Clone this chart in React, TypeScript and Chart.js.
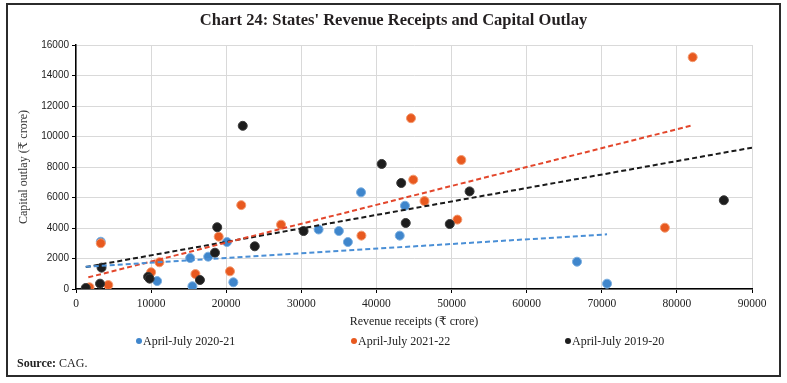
import React, { useEffect, useRef } from "react";
import { Chart, registerables } from "chart.js";

Chart.register(...registerables);

// ---- Data ----
const seriesNames = ["April-July 2020-21", "April-July 2021-22", "April-July 2019-20"];
const seriesColors = ["#3f86cc", "#e8591f", "#1d1d1d"];
const seriesBorders = ["#7aaee0", "#f29a70", "#3a3a3a"];
const trendColors = ["#4a8fd6", "#e3462b", "#1a1a1a"];

const x2020 = [3300, 10800, 15200, 15500, 17600, 20100, 20950, 32300, 35000, 36200, 37950, 43100, 43800, 66700, 70700];
const y2020 = [3100, 520, 2030, 180, 2120, 3080, 440, 3900, 3800, 3080, 6340, 3500, 5460, 1790, 350];

const x2021 = [1800, 3300, 4300, 10000, 11100, 15900, 19000, 20500, 22000, 27300, 38000, 44600, 44900, 46400, 50770, 51300, 78400, 82100];
const y2021 = [110, 3000, 260, 1100, 1750, 980, 3430, 1160, 5500, 4220, 3500, 11200, 7170, 5770, 4550, 8460, 4020, 15200];

const x2019 = [1300, 3200, 3400, 9600, 9800, 16500, 18500, 18800, 22200, 23800, 30300, 40700, 43300, 43900, 49760, 52400, 86250];
const y2019 = [65, 350, 1400, 800, 680, 590, 2380, 4050, 10700, 2800, 3800, 8200, 6950, 4330, 4260, 6400, 5820];

// Trend line end points
const trend2020X = [1300, 70700];
const trend2020Y = [1460, 3585];
const trend2021X = [1640, 81900];
const trend2021Y = [765, 10710];
const trend2019X = [1300, 90000];
const trend2019Y = [1440, 9270];

const xTicks = [0, 10000, 20000, 30000, 40000, 50000, 60000, 70000, 80000, 90000];
const yTicks = [0, 2000, 4000, 6000, 8000, 10000, 12000, 14000, 16000];

const titleText = "Chart 24: States' Revenue Receipts and Capital Outlay";
const xTitle = "Revenue receipts (₹ crore)";
const yTitle = "Capital outlay (₹ crore)";

const zip = (xs: number[], ys: number[]) => xs.map((x, i) => ({ x, y: ys[i] }));

const SERIF = "'Liberation Serif', 'DejaVu Serif', serif";
const SANS = "'Liberation Sans', 'DejaVu Sans', sans-serif";

export default function App() {
  const ref = useRef<HTMLCanvasElement | null>(null);

  useEffect(() => {
    if (!ref.current) return;
    const pointSets = [zip(x2020, y2020), zip(x2021, y2021), zip(x2019, y2019)];
    const trendSets = [zip(trend2020X, trend2020Y), zip(trend2021X, trend2021Y), zip(trend2019X, trend2019Y)];
    const pointOrder = [3, 2, 1];

    const datasets: any[] = [];
    trendSets.forEach((d, i) => {
      datasets.push({
        type: "line",
        label: seriesNames[i] + " trend",
        data: d,
        borderColor: trendColors[i],
        borderWidth: 2,
        borderDash: [5, 3],
        pointRadius: 0,
        fill: false,
        order: 0,
      });
    });
    pointSets.forEach((d, i) => {
      datasets.push({
        type: "scatter",
        label: seriesNames[i],
        data: d,
        backgroundColor: seriesColors[i],
        borderColor: seriesBorders[i],
        borderWidth: 1,
        pointRadius: 4.5,
        order: pointOrder[i],
      });
    });

    const chart = new Chart(ref.current, {
      type: "scatter",
      data: { datasets },
      options: {
        animation: false,
        responsive: false,
        devicePixelRatio: 1,
        layout: { padding: { top: 0, left: 0, right: 0, bottom: 54 } },
        plugins: {
          legend: { display: false },
          tooltip: { enabled: false },
          title: {
            display: true,
            text: titleText,
            color: "#231f20",
            font: { family: SERIF, size: 16.5, weight: "bold" },
            padding: { top: 11, bottom: 14.2 },
          },
        },
        scales: {
          x: {
            type: "linear",
            min: 0,
            max: 90000,
            afterBuildTicks: (s: any) => {
              s.ticks = xTicks.map((v) => ({ value: v }));
            },
            afterFit: (s: any) => {
              s.height = 40;
            },
            ticks: {
              callback: (v: any) => String(v),
              color: "#222",
              font: { family: SERIF, size: 11.5 },
              padding: 4,
              maxRotation: 0,
              autoSkip: false,
            },
            grid: { color: "#d9d9d9", lineWidth: 1, tickColor: "#000", tickLength: 4 },
            border: { color: "#000", width: 1.5 },
            title: {
              display: true,
              text: xTitle,
              color: "#222",
              font: { family: SERIF, size: 12 },
              padding: { top: 0, bottom: 0 },
            },
          },
          y: {
            type: "linear",
            min: 0,
            max: 16000,
            afterBuildTicks: (s: any) => {
              s.ticks = yTicks.map((v) => ({ value: v }));
            },
            afterFit: (s: any) => {
              s.width = 76;
            },
            ticks: {
              callback: (v: any) => String(v),
              color: "#222",
              font: { family: SANS, size: 10 },
              padding: 3,
              autoSkip: false,
            },
            grid: { color: "#d9d9d9", lineWidth: 1, tickColor: "#000", tickLength: 4 },
            border: { color: "#000", width: 1.5 },
            title: {
              display: true,
              text: yTitle,
              color: "#333",
              font: { family: SERIF, size: 12 },
              padding: { top: 17, bottom: 0 },
            },
          },
          yRight: {
            type: "linear",
            position: "right",
            display: true,
            min: 0,
            max: 16000,
            afterFit: (s: any) => {
              s.width = 35;
            },
            ticks: { display: false },
            grid: { display: false, drawTicks: false },
            border: { display: false },
            title: { display: false },
          },
        },
      } as any,
    });
    return () => chart.destroy();
  }, []);

  const legendX = [139, 354, 568];

  return (
    <div style={{ position: "absolute", left: 0, top: 0, width: 787, height: 383, background: "#fff" }}>
      <canvas ref={ref} width={787} height={383} style={{ position: "absolute", left: 0, top: 0, width: 787, height: 383 }} />
      <div
        style={{
          position: "absolute",
          left: 6,
          top: 3,
          width: 775,
          height: 374,
          boxSizing: "border-box",
          border: "2px solid #2b2b2b",
          pointerEvents: "none",
        }}
      />
      {seriesNames.map((name, i) => (
        <div
          key={name}
          style={{
            position: "absolute",
            left: legendX[i] - 3,
            top: 334,
            height: 14,
            lineHeight: "14px",
            whiteSpace: "nowrap",
            fontFamily: SERIF,
            fontSize: 12,
            color: "#222",
            display: "flex",
            alignItems: "center",
          }}
        >
          <span
            style={{
              display: "inline-block",
              width: 6,
              height: 6,
              borderRadius: 3,
              background: seriesColors[i],
              marginRight: 1,
            }}
          />
          <span>{name}</span>
        </div>
      ))}
      <div
        style={{
          position: "absolute",
          left: 17,
          top: 356,
          lineHeight: "14px",
          fontFamily: SERIF,
          fontSize: 12,
          color: "#222",
          whiteSpace: "nowrap",
        }}
      >
        <b>Source:</b> CAG.
      </div>
    </div>
  );
}
